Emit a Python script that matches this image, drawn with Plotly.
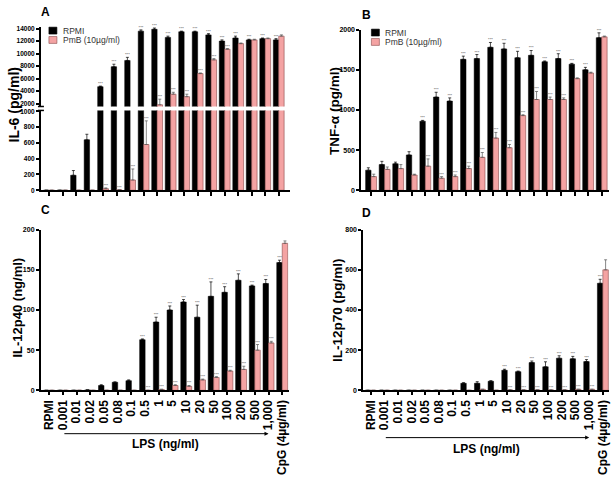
import plotly.graph_objects as go

W, H = 615, 483
def fx(p): return p / W
def fy(p): return 1 - p / H

categories = ["RPMI", "0.001", "0.01", "0.02", "0.05", "0.08", "0.1", "0.5", "1", "5",
              "10", "20", "50", "100", "200", "500", "1,000", "CpG (4µg/ml)"]
xpos = list(range(len(categories)))

# Panel A: IL-6 (pg/ml)
il6_rpmi = [0, 0, 190, 640, 4700, 7900, 8900, 13600, 13900, 12600, 13500, 13500, 13000, 12000, 12500, 12200, 12400, 12200]
il6_rpmi_err = [0, 0, 60, 70, 100, 400, 500, 200, 200, 200, 100, 100, 200, 200, 300, 100, 100, 200]
il6_pmb = [0, 0, 0, 0, 20, 5, 130, 580, 1800, 3500, 3100, 6800, 9000, 10700, 11600, 12200, 12400, 12800]
il6_pmb_err = [0, 0, 0, 0, 10, 0, 140, 300, 900, 300, 400, 100, 200, 100, 100, 100, 100, 200]
il6_rpmi_sig = ["", "", "", "", "***", "***", "***", "***", "***", "***", "***", "***", "***", "***", "***", "***", "***", "***"]
il6_pmb_sig = ["", "", "", "", "***", "***", "***", "***", "***", "***", "***", "***", "***", "***", "", "", "", ""]

# Panel B: TNF-alpha (pg/ml)
tnf_rpmi = [250, 320, 330, 440, 860, 1160, 1110, 1630, 1640, 1780, 1760, 1650, 1680, 1600, 1640, 1570, 1500, 1900]
tnf_rpmi_err = [30, 40, 20, 40, 10, 60, 40, 40, 50, 60, 70, 80, 60, 10, 60, 10, 30, 60]
tnf_pmb = [170, 260, 270, 190, 300, 150, 170, 270, 410, 650, 530, 930, 1130, 1130, 1130, 1390, 1460, 1910]
tnf_pmb_err = [30, 30, 50, 10, 90, 20, 20, 30, 60, 70, 40, 10, 100, 30, 20, 10, 10, 10]
tnf_rpmi_sig = ["", "", "", "", "***", "***", "***", "***", "***", "***", "***", "***", "***", "***", "***", "***", "***", "***"]
tnf_pmb_sig = ["", "", "", "", "***", "***", "***", "***", "***", "***", "***", "***", "***", "***", "***", "", "", ""]

# Panel C: IL-12p40 (ng/ml)
p40_rpmi = [0, 0, 0, 0.5, 6, 10, 12, 63, 85, 100, 110, 91, 117, 122, 137, 130, 133, 159]
p40_rpmi_err = [0, 0, 0, 0, 1, 0.5, 1, 1, 6, 5, 3, 15, 18, 7, 8, 1, 5, 3]
p40_pmb = [0, 0, 0, 0, 0, 0, 0, 0, 1, 6, 5, 13, 16, 24, 26, 50, 59, 183]
p40_pmb_err = [0, 0, 0, 0, 0, 0, 0, 0, 0.5, 1, 1, 1, 1, 1, 4, 7, 2, 3]
p40_rpmi_sig = ["", "", "", "", "", "", "", "***", "***", "***", "***", "***", "***", "***", "***", "***", "***", "***"]
p40_pmb_sig = ["", "", "", "", "", "", "", "***", "***", "***", "***", "***", "***", "***", "***", "***", "***", ""]

# Panel D: IL-12p70 (pg/ml)
p70_rpmi = [0, 0, 0, 0, 0, 0, 0, 35, 35, 45, 100, 93, 138, 117, 160, 157, 143, 533]
p70_rpmi_err = [0, 0, 0, 0, 0, 0, 0, 3, 8, 3, 5, 3, 8, 25, 12, 12, 10, 20]
p70_pmb = [0, 0, 0, 0, 0, 0, 0, 0, 5, 0, 2, 2, 2, 2, 2, 5, 5, 600]
p70_pmb_err = [0, 0, 0, 0, 0, 0, 0, 0, 0, 0, 0, 0, 0, 0, 0, 0, 0, 50]
p70_rpmi_sig = ["", "", "", "", "", "", "", "", "", "", "***", "***", "***", "***", "***", "***", "***", "***"]
p70_pmb_sig = ["", "", "", "", "", "", "", "", "", "", "***", "***", "***", "***", "***", "***", "***", ""]

series_names = ["RPMI", "PmB (10µg/ml)"]

BLACK = "#000000"
PINK = "#F4A3A3"
PINK_EDGE = "#8a4a4a"
FONT = "Liberation Sans"

fig = go.Figure()

def add_panel(xa, ya, rpmi, rerr, pmb, perr, rsig, psig):
    fig.add_trace(go.Bar(x=xpos, y=rpmi, name=series_names[0],
                         marker=dict(color=BLACK, line=dict(color=BLACK, width=0.5)),
                         error_y=dict(type="data", array=rerr, arrayminus=[0]*len(rerr), symmetric=False,
                                      color=BLACK, thickness=0.7, width=1.5),
                         xaxis=xa, yaxis=ya, offsetgroup="r", showlegend=False))
    fig.add_trace(go.Bar(x=xpos, y=pmb, name=series_names[1],
                         marker=dict(color=PINK, line=dict(color=PINK_EDGE, width=0.6)),
                         error_y=dict(type="data", array=perr, arrayminus=[0]*len(perr), symmetric=False,
                                      color="#555555", thickness=0.7, width=1.5),
                         xaxis=xa, yaxis=ya, offsetgroup="p", showlegend=False))
    fig.add_trace(go.Scatter(x=[i - 0.2 for i in xpos], y=[v + e for v, e in zip(rpmi, rerr)], text=rsig,
                             mode="text", textposition="top center",
                             textfont=dict(size=4, color="#444444", family=FONT),
                             xaxis=xa, yaxis=ya, showlegend=False, cliponaxis=False, hoverinfo="skip"))
    fig.add_trace(go.Scatter(x=[i + 0.2 for i in xpos], y=[v + e for v, e in zip(pmb, perr)], text=psig,
                             mode="text", textposition="top center",
                             textfont=dict(size=4, color="#444444", family=FONT),
                             xaxis=xa, yaxis=ya, showlegend=False, cliponaxis=False, hoverinfo="skip"))

BREAK = 1000
add_panel("x", "y", il6_rpmi, il6_rpmi_err, il6_pmb, il6_pmb_err,
          ["" if (v + e) > BREAK else s for v, e, s in zip(il6_rpmi, il6_rpmi_err, il6_rpmi_sig)],
          ["" if (v + e) > BREAK else s for v, e, s in zip(il6_pmb, il6_pmb_err, il6_pmb_sig)])
add_panel("x2", "y2", il6_rpmi, il6_rpmi_err, il6_pmb, il6_pmb_err,
          ["" if (v + e) <= BREAK else s for v, e, s in zip(il6_rpmi, il6_rpmi_err, il6_rpmi_sig)],
          ["" if (v + e) <= BREAK else s for v, e, s in zip(il6_pmb, il6_pmb_err, il6_pmb_sig)])
add_panel("x3", "y3", tnf_rpmi, tnf_rpmi_err, tnf_pmb, tnf_pmb_err, tnf_rpmi_sig, tnf_pmb_sig)
add_panel("x4", "y4", p40_rpmi, p40_rpmi_err, p40_pmb, p40_pmb_err, p40_rpmi_sig, p40_pmb_sig)
add_panel("x5", "y5", p70_rpmi, p70_rpmi_err, p70_pmb, p70_pmb_err, p70_rpmi_sig, p70_pmb_sig)

axis_common = dict(showline=True, linecolor="black", linewidth=2, ticks="outside", tickcolor="black",
                   tickwidth=1.5, ticklen=4, showgrid=False, zeroline=False,
                   fixedrange=True, tickformat="d")

def xax(dom, rng, labels=False, anchor="y"):
    d = dict(axis_common)
    d.update(domain=dom, range=rng, anchor=anchor, type="linear", tickmode="array",
             tickvals=xpos, ticktext=categories, showticklabels=labels)
    if labels:
        d.update(tickangle=-90, tickfont=dict(family=FONT, size=12, color="black", weight="bold"), ticklen=3)
    return d

def yax(dom, rng, tickvals, anchor, fs=7):
    d = dict(axis_common)
    d.update(domain=dom, range=rng, anchor=anchor, tickmode="array", tickvals=tickvals,
             tickfont=dict(family=FONT, size=fs, color="black", weight="bold"), ticklen=3)
    return d

fig.update_layout(
    width=W, height=H, margin=dict(l=0, r=0, t=0, b=0),
    paper_bgcolor="white", plot_bgcolor="white",
    barmode="group", bargap=0.2, bargroupgap=0.0,
    font=dict(family=FONT, color="black"),
    showlegend=False,
    xaxis=xax([fx(41), fx(290)], [-0.6, 17.8], anchor="y"),
    yaxis=yax([fy(189), fy(108)], [0, 1012], [0, 200, 400, 600, 800, 1000], "x", 6.5),
    xaxis2=dict(domain=[fx(41), fx(290)], range=[-0.6, 17.8], anchor="y2", type="linear",
                visible=False, fixedrange=True),
    yaxis2=yax([fy(104), fy(23)], [1526, 14316], [2000, 4000, 6000, 8000, 10000, 12000, 14000], "x2", 6.5),
    xaxis3=xax([fx(362), fx(610)], [-0.71, 17.54], anchor="y3"),
    yaxis3=yax([fy(189), fy(26)], [0, 2000], [0, 500, 1000, 1500, 2000], "x3"),
    xaxis4=xax([fx(41), fx(289)], [-0.6, 17.46], labels=True, anchor="y4"),
    yaxis4=yax([fy(392), fy(229)], [0, 200], [0, 50, 100, 150, 200], "x4"),
    xaxis5=xax([fx(364), fx(610)], [-0.53, 17.45], labels=True, anchor="y5"),
    yaxis5=yax([fy(392), fy(229)], [0, 800], [0, 200, 400, 600, 800], "x5"),
)

def txt(x, y, s, size, angle=0, weight="bold", anchor="center", color="black"):
    fig.add_annotation(x=fx(x), y=fy(y), xref="paper", yref="paper", text=s, showarrow=False,
                       textangle=angle, font=dict(family=FONT, size=size, color=color, weight=weight),
                       xanchor=anchor, yanchor="middle")

txt(46, 8, "A", 12)
txt(367, 11, "B", 12)
txt(46, 209, "C", 12)
txt(367, 212, "D", 12)
txt(14, 102, "IL-6 (pg/ml)", 14, -90)
txt(335, 108, "TNF-α (pg/ml)", 13.5, -90)
txt(18, 308, "IL-12p40 (ng/ml)", 13, -90)
txt(338, 310, "IL-12p70 (pg/ml)", 13.5, -90)

# legends (A and B)
for lx, ly in [(49, 27), (372, 29)]:
    for k, (nm, col, edge) in enumerate(zip(series_names, [BLACK, PINK], [BLACK, PINK_EDGE])):
        yc = ly + k * 9.5
        fig.add_shape(type="rect", xref="paper", yref="paper", x0=fx(lx), x1=fx(lx + 8),
                      y0=fy(yc + 3.5), y1=fy(yc - 3.5), fillcolor=col, line=dict(color=edge, width=0.6))
        txt(lx + 12, yc, nm, 8.5, weight="normal", anchor="left", color="#333333")

# LPS arrows and labels
i_start = categories.index("0.001")
i_end = categories.index("1,000")
for xa, ya_px, lab_px in [("x4", 436, 446), ("x5", 440, 452)]:
    fig.add_annotation(x=i_end, y=fy(ya_px), xref=xa, yref="paper", ax=i_start, ay=0,
                       axref=xa, ayref="pixel", showarrow=True, arrowhead=2, arrowsize=0.8, arrowwidth=1,
                       arrowcolor="black", text="")
    fig.add_annotation(x=(i_start + i_end) / 2, y=fy(lab_px), xref=xa, yref="paper", text="LPS (ng/ml)",
                       showarrow=False, font=dict(family=FONT, size=12, color="black", weight="bold"),
                       xanchor="center", yanchor="middle")

# axis break marks on panel A
for yy in [104, 108]:
    fig.add_shape(type="line", xref="paper", yref="paper", x0=fx(38), x1=fx(44), y0=fy(yy), y1=fy(yy),
                  line=dict(color="black", width=1.5))

fig.write_html("out.html", config={"displayModeBar": False},
               post_script="document.body.style.margin='0';document.body.style.padding='0';")
